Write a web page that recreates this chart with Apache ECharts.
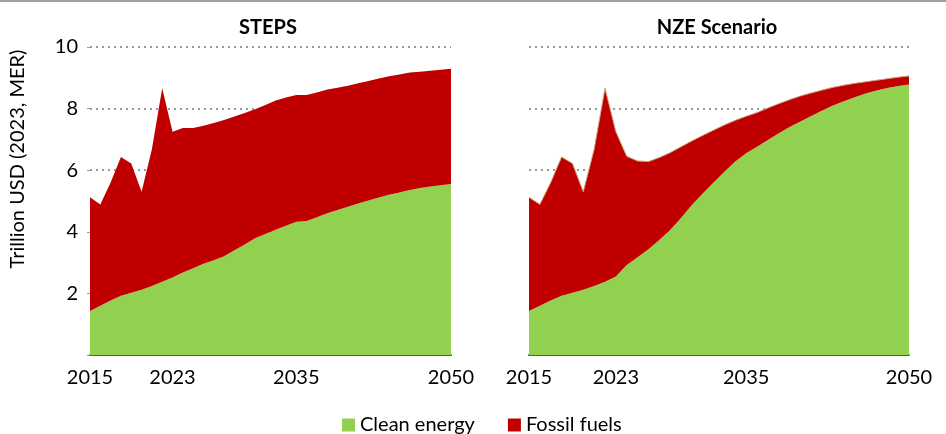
<!DOCTYPE html>
<html>
<head>
<meta charset="utf-8">
<script src="https://cdn.jsdelivr.net/npm/echarts@6/dist/echarts.min.js"></script>
<style>
  html, body { margin: 0; padding: 0; background: #fff; }
  #chart { width: 946px; height: 434px; }
</style>
</head>
<body>
<div id="chart"></div>
<script>
// years 2015 - 2050
var years = [];
for (var y = 2015; y <= 2050; y++) years.push(String(y));
var shownYears = ['2015', '2023', '2035', '2050'];

// STEPS: clean energy and total investment (trillion USD)
var stepsClean = [1.43, 1.60, 1.77, 1.92, 2.02, 2.12, 2.24, 2.38, 2.52, 2.68,
  2.82, 2.96, 3.08, 3.21, 3.40, 3.59, 3.79, 3.93, 4.07, 4.20,
  4.33, 4.35, 4.47, 4.60, 4.71, 4.81, 4.92, 5.02, 5.11, 5.20,
  5.28, 5.36, 5.42, 5.47, 5.51, 5.55];
var stepsTotal = [5.12, 4.89, 5.60, 6.43, 6.22, 5.30, 6.68, 8.66, 7.25, 7.37,
  7.37, 7.44, 7.53, 7.63, 7.74, 7.86, 7.98, 8.12, 8.26, 8.36,
  8.44, 8.44, 8.52, 8.62, 8.68, 8.74, 8.82, 8.90, 8.98, 9.05,
  9.11, 9.17, 9.20, 9.23, 9.26, 9.29];

// NZE Scenario
var nzeClean = [1.43, 1.60, 1.77, 1.92, 2.02, 2.12, 2.24, 2.38, 2.55, 2.92,
  3.17, 3.43, 3.73, 4.06, 4.45, 4.87, 5.24, 5.60, 5.95, 6.28,
  6.55, 6.76, 6.98, 7.20, 7.40, 7.58, 7.76, 7.94, 8.10, 8.24,
  8.37, 8.49, 8.59, 8.67, 8.73, 8.78];
var nzeTotal = [5.12, 4.89, 5.60, 6.43, 6.22, 5.30, 6.68, 8.66, 7.25, 6.45,
  6.30, 6.28, 6.41, 6.57, 6.76, 6.95, 7.13, 7.30, 7.47, 7.62,
  7.75, 7.87, 8.02, 8.16, 8.29, 8.41, 8.51, 8.60, 8.69, 8.76,
  8.82, 8.87, 8.92, 8.97, 9.02, 9.06];

function fossil(total, clean) {
  return total.map(function (t, i) { return +(t - clean[i]).toFixed(2); });
}
var stepsFossil = fossil(stepsTotal, stepsClean);
var nzeFossil = fossil(nzeTotal, nzeClean);

var GREEN = '#92D050';
var RED = '#C00000';
var FONT = "Lato, 'Open Sans', sans-serif";

var myChart = echarts.init(document.getElementById('chart'));

function xAxisFor(idx) {
  return {
    type: 'category',
    gridIndex: idx,
    data: years,
    boundaryGap: false,
    axisLine: { lineStyle: { color: '#595959', width: 2 } },
    axisTick: { show: false },
    axisLabel: {
      interval: function (i, v) { return shownYears.indexOf(v) >= 0; },
      color: '#000', fontSize: 20, fontFamily: FONT, margin: 13
    }
  };
}
function yAxisFor(idx, labels) {
  return {
    type: 'value',
    gridIndex: idx,
    min: 0, max: 10, interval: 2,
    axisLine: { show: false },
    axisTick: { show: labels, length: 3, lineStyle: { color: '#999' } },
    axisLabel: {
      show: labels, color: '#000', fontSize: 20, fontFamily: FONT, margin: 12,
      formatter: function (v) { return v === 0 ? '' : v; }
    },
    splitLine: { lineStyle: { color: '#999', type: [2, 4], width: 2 } }
  };
}
function areaSeries(name, data, color, idx, stack, line) {
  return {
    name: name,
    type: 'line',
    xAxisIndex: idx,
    yAxisIndex: idx,
    stack: stack,
    data: data,
    symbol: 'none',
    lineStyle: line || { width: 0 },
    areaStyle: { color: color, opacity: 1 },
    itemStyle: { color: color },
    animation: false
  };
}

var option = {
  animation: false,
  textStyle: { fontFamily: FONT },
  title: [
    { text: 'STEPS', left: 263, top: 13, textAlign: 'center',
      textStyle: { fontSize: 20, fontWeight: 'bold', color: '#000', fontFamily: FONT } },
    { text: 'NZE Scenario', left: 712, top: 13, textAlign: 'center',
      textStyle: { fontSize: 20, fontWeight: 'bold', color: '#000', fontFamily: FONT } }
  ],
  graphic: [
    { type: 'line', shape: { x1: 0, y1: 1, x2: 946, y2: 1 },
      style: { stroke: '#a0a0a0', lineWidth: 2 } },
    { type: 'text', x: 18, y: 159, rotation: Math.PI / 2,
      style: { text: 'Trillion USD (2023, MER)', fill: '#000', fontSize: 20,
        fontFamily: FONT, align: 'center', verticalAlign: 'middle' } }
  ],
  legend: {
    top: 410,
    left: 337,
    itemWidth: 13, itemHeight: 13, itemGap: 33,
    icon: 'rect',
    data: ['Clean energy', 'Fossil fuels'],
    textStyle: { color: '#000', fontSize: 20, fontFamily: FONT }
  },
  grid: [
    { left: 90, right: 495, top: 47, bottom: 79 },
    { left: 529, right: 37, top: 47, bottom: 79 }
  ],
  xAxis: [xAxisFor(0), xAxisFor(1)],
  yAxis: [yAxisFor(0, true), yAxisFor(1, false)],
  series: [
    areaSeries('Clean energy', stepsClean, GREEN, 0, 'steps'),
    areaSeries('Fossil fuels', stepsFossil, RED, 0, 'steps'),
    areaSeries('Clean energy', nzeClean, GREEN, 1, 'nze'),
    areaSeries('Fossil fuels', nzeFossil, RED, 1, 'nze', { width: 1, color: '#C9A47A' })
  ]
};
myChart.setOption(option);
</script>
</body>
</html>
